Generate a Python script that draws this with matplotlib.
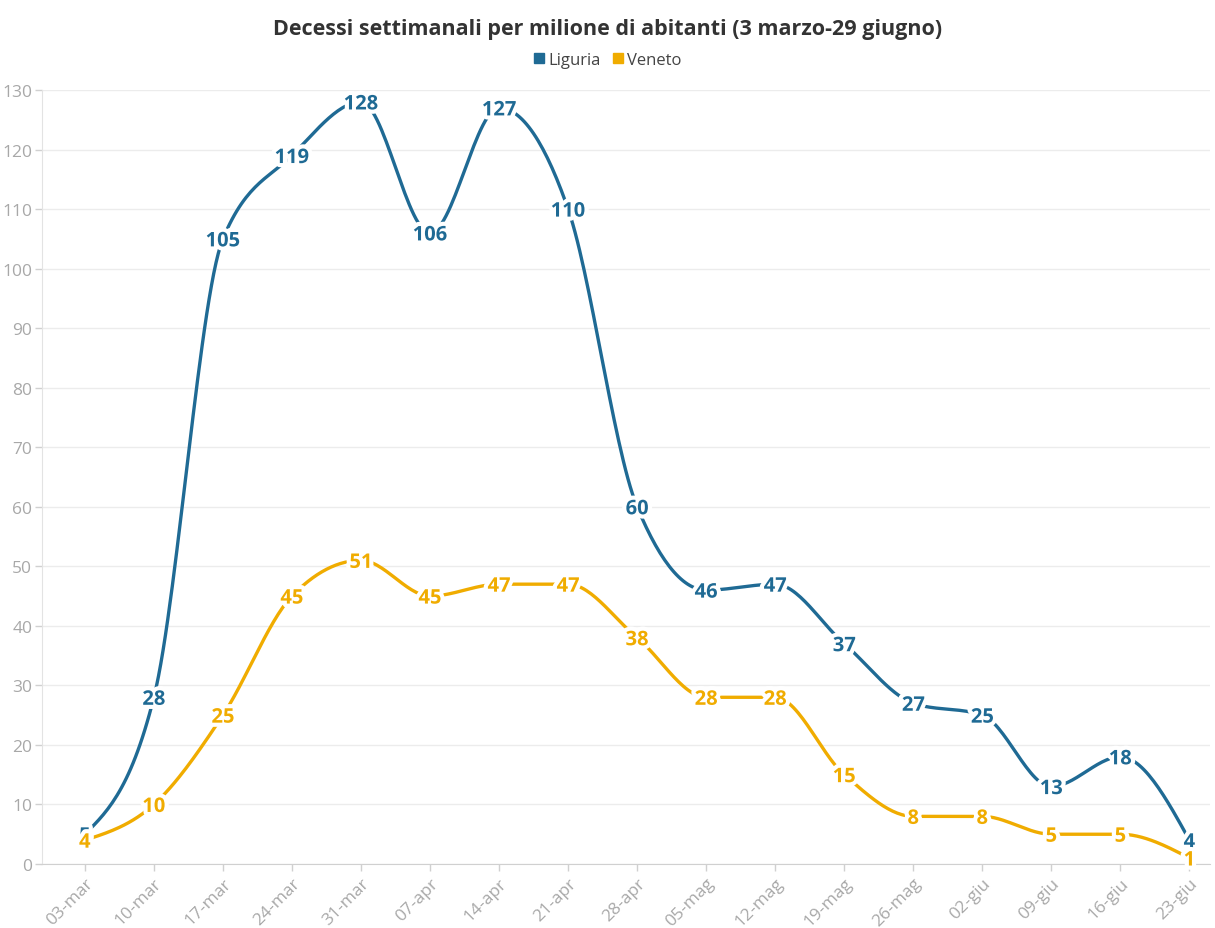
import numpy as np
import matplotlib
matplotlib.use("Agg")
import matplotlib.pyplot as plt
import matplotlib.patheffects as pe
from matplotlib.lines import Line2D

categories = ["03-mar", "10-mar", "17-mar", "24-mar", "31-mar", "07-apr", "14-apr", "21-apr",
              "28-apr", "05-mag", "12-mag", "19-mag", "26-mag", "02-giu", "09-giu", "16-giu", "23-giu"]
liguria = [5, 28, 105, 119, 128, 106, 127, 110, 60, 46, 47, 37, 27, 25, 13, 18, 4]
veneto = [4, 10, 25, 45, 51, 45, 47, 47, 38, 28, 28, 15, 8, 8, 5, 5, 1]

title = "Decessi settimanali per milione di abitanti (3 marzo-29 giugno)"
series_names = ["Liguria", "Veneto"]
colors = ["#1f6a94", "#f0ac00"]

FONT = "Open Sans"


def monotone_x(x, y, n=30):
    x = np.asarray(x, float)
    y = np.asarray(y, float)
    h = np.diff(x)
    s = np.diff(y) / h
    m = np.zeros_like(y)
    for i in range(1, len(y) - 1):
        if s[i - 1] * s[i] <= 0:
            m[i] = 0.0
        else:
            p = (s[i - 1] * h[i] + s[i] * h[i - 1]) / (h[i - 1] + h[i])
            m[i] = (np.sign(s[i - 1]) + np.sign(s[i])) * min(abs(s[i - 1]), abs(s[i]), 0.5 * abs(p))
    m[0] = (3 * s[0] - m[1]) / 2 if len(y) > 2 else s[0]
    m[-1] = (3 * s[-1] - m[-2]) / 2 if len(y) > 2 else s[-1]
    xs, ys = [], []
    for i in range(len(x) - 1):
        t = np.linspace(0, 1, n, endpoint=(i == len(x) - 2))
        h00 = 2 * t**3 - 3 * t**2 + 1
        h10 = t**3 - 2 * t**2 + t
        h01 = -2 * t**3 + 3 * t**2
        h11 = t**3 - t**2
        xs.append(x[i] + t * h[i])
        ys.append(h00 * y[i] + h10 * h[i] * m[i] + h01 * y[i + 1] + h11 * h[i] * m[i + 1])
    return np.concatenate(xs), np.concatenate(ys)


fig = plt.figure(figsize=(12.15, 9.29), dpi=100)
ax = fig.add_axes([0.0346, 0.0689, 0.9614, 0.8331])

x = np.arange(len(categories))
for vals, col in [(liguria, colors[0]), (veneto, colors[1])]:
    xs, ys = monotone_x(x, vals)
    ax.plot(xs, ys, color=col, lw=2.4, solid_capstyle="round", zorder=3)

for vals, col, z in [(liguria, colors[0], 4), (veneto, colors[1], 5)]:
    for xi, v in zip(x, vals):
        ax.text(xi, v, str(v), ha="center", va="center_baseline", color=col, fontsize=14.5,
                fontweight="bold", family=FONT, zorder=z,
                path_effects=[pe.withStroke(linewidth=6, foreground="white")])

ax.set_xlim(-0.62, 16.3)
ax.set_ylim(0, 130)
ax.set_yticks(np.arange(0, 131, 10))
ax.set_xticks(x)
ax.set_xticklabels(categories, rotation=45, ha="right", rotation_mode="anchor")
ax.tick_params(axis="y", colors="#d0d0d0", labelcolor="#a8a8a8", labelsize=12.5, length=5, width=1, pad=2)
ax.tick_params(axis="x", colors="#d0d0d0", labelcolor="#a8a8a8", labelsize=12.5, length=5, width=1, pad=3)
for lab in ax.get_xticklabels() + ax.get_yticklabels():
    lab.set_family(FONT)
ax.grid(axis="y", color="#ececec", lw=1, zorder=0)
for sp in ["top", "right"]:
    ax.spines[sp].set_visible(False)
ax.spines["left"].set_color("#e3e3e3")
ax.spines["bottom"].set_color("#d0d0d0")
ax.set_axisbelow(True)

fig.text(0.5, 0.968, title, ha="center", va="center", fontsize=15.5, fontweight="bold",
         color="#333333", family=FONT)

handles = [Line2D([], [], marker="s", ls="none", color=c, markersize=7) for c in colors]
fig.legend(handles, series_names, loc="center", bbox_to_anchor=(0.5, 0.934), ncol=2, frameon=False,
           handletextpad=0.2, columnspacing=0.7, handlelength=0.7,
           prop={"family": FONT, "size": 12}, labelcolor="#444444")

fig.savefig("out.png", dpi=100, facecolor="white")
